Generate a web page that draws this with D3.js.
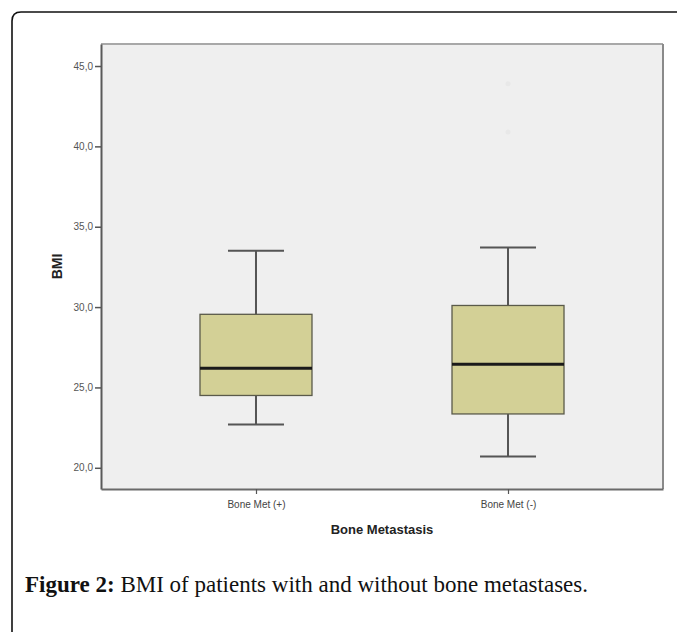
<!DOCTYPE html>
<html>
<head>
<meta charset="utf-8">
<script src="https://cdn.jsdelivr.net/npm/d3@7"></script>
<style>
  html, body { margin: 0; padding: 0; background: #fff; }
  svg { display: block; }
</style>
</head>
<body>
<svg id="chart" width="677" height="632"></svg>
<script>
// ---- data ----
const categories = ["Bone Met (+)", "Bone Met (-)"];
const whiskerLow = [22.7, 20.7];
const q1 = [24.5, 23.35];
const median = [26.2, 26.45];
const q3 = [29.55, 30.1];
const whiskerHigh = [33.5, 33.7];
const outliers = [[], [43.9, 40.9]];
const yTicks = [20, 25, 30, 35, 40, 45];
const yTitle = "BMI";
const xTitle = "Bone Metastasis";
const captionBold = "Figure 2:";
const captionText = " BMI of patients with and without bone metastases.";

// ---- layout ----
const svg = d3.select("#chart");
const plot = { left: 101, right: 663, top: 44, bottom: 489 };

// outer rounded frame (open to right/bottom)
svg.append("path")
  .attr("d", `M12,640 L12,21 Q12,12 21,12 L690,12`)
  .attr("fill", "none").attr("stroke", "#111").attr("stroke-width", 1.6);

const y = d3.scaleLinear().domain([18.68, 46.37]).range([plot.bottom, plot.top]);
const x = d3.scalePoint().domain(categories).range([plot.left, plot.right]).padding(0.615);

// plot background
svg.append("rect")
  .attr("x", plot.left).attr("y", plot.top)
  .attr("width", plot.right - plot.left).attr("height", plot.bottom - plot.top)
  .attr("fill", "#efefef");

// frame: top and right
svg.append("line").attr("x1", plot.left).attr("x2", plot.right).attr("y1", plot.top).attr("y2", plot.top)
  .attr("stroke", "#a8a8a8").attr("stroke-width", 2);
svg.append("line").attr("x1", plot.right).attr("x2", plot.right).attr("y1", plot.top).attr("y2", plot.bottom)
  .attr("stroke", "#8a8a8a").attr("stroke-width", 2);

// axes
const yAxis = svg.append("g").attr("transform", `translate(${plot.left},0)`)
  .call(d3.axisLeft(y).tickValues(yTicks).tickSize(6).tickSizeOuter(0).tickPadding(2)
    .tickFormat(d => d3.format(".1f")(d).replace(".", ",")));
yAxis.select(".domain").attr("stroke", "#5a5a5a").attr("stroke-width", 2);
yAxis.selectAll(".tick line").attr("stroke", "#555").attr("stroke-width", 1.5);
yAxis.selectAll(".tick text").attr("fill", "#555").style("font-family", "Arial, 'Liberation Sans', sans-serif").style("font-size", "10px");

const xAxis = svg.append("g").attr("transform", `translate(0,${plot.bottom})`)
  .call(d3.axisBottom(x).tickSize(5).tickPadding(7).tickSizeOuter(0));
xAxis.select(".domain").attr("stroke", "#6a6a6a").attr("stroke-width", 2);
xAxis.selectAll(".tick line").attr("stroke", "#555").attr("stroke-width", 1.2);
xAxis.selectAll(".tick text").attr("fill", "#444").style("font-family", "Arial, 'Liberation Sans', sans-serif").style("font-size", "10px");

// boxes
const boxW = 112, capW = 56;
const stats = categories.map((c, i) => ({
  c, lo: whiskerLow[i], q1: q1[i], med: median[i], q3: q3[i], hi: whiskerHigh[i], out: outliers[i]
}));
const g = svg.append("g");
const box = g.selectAll("g.box").data(stats).join("g").attr("class", "box");

// whisker stems
box.append("line").attr("x1", d => x(d.c)).attr("x2", d => x(d.c))
  .attr("y1", d => y(d.hi)).attr("y2", d => y(d.q3)).attr("stroke", "#555").attr("stroke-width", 2);
box.append("line").attr("x1", d => x(d.c)).attr("x2", d => x(d.c))
  .attr("y1", d => y(d.q1)).attr("y2", d => y(d.lo)).attr("stroke", "#555").attr("stroke-width", 2);
// caps
box.append("line").attr("x1", d => x(d.c) - capW / 2).attr("x2", d => x(d.c) + capW / 2)
  .attr("y1", d => y(d.hi)).attr("y2", d => y(d.hi)).attr("stroke", "#555").attr("stroke-width", 2);
box.append("line").attr("x1", d => x(d.c) - capW / 2).attr("x2", d => x(d.c) + capW / 2)
  .attr("y1", d => y(d.lo)).attr("y2", d => y(d.lo)).attr("stroke", "#555").attr("stroke-width", 2);
// box
box.append("rect").attr("x", d => x(d.c) - boxW / 2).attr("width", boxW)
  .attr("y", d => y(d.q3)).attr("height", d => y(d.q1) - y(d.q3))
  .attr("fill", "#d3d096").attr("stroke", "#5a5a4a").attr("stroke-width", 1.3);
// median
box.append("line").attr("x1", d => x(d.c) - boxW / 2).attr("x2", d => x(d.c) + boxW / 2)
  .attr("y1", d => y(d.med)).attr("y2", d => y(d.med)).attr("stroke", "#1a1a1a").attr("stroke-width", 3);
// outliers (very faint)
box.selectAll("circle").data(d => d.out.map(v => ({ c: d.c, v }))).join("circle")
  .attr("cx", d => x(d.c)).attr("cy", d => y(d.v)).attr("r", 2.5)
  .attr("fill", "#e8e8e8");

// axis titles
svg.append("text")
  .attr("transform", `translate(62,${(plot.top + plot.bottom) / 2}) rotate(-90)`)
  .attr("text-anchor", "middle")
  .style("font-family", "Arial, 'Liberation Sans', sans-serif").style("font-size", "14px").style("font-weight", "bold")
  .attr("fill", "#222").text(yTitle);
svg.append("text")
  .attr("x", (plot.left + plot.right) / 2).attr("y", 534)
  .attr("text-anchor", "middle")
  .style("font-family", "Arial, 'Liberation Sans', sans-serif").style("font-size", "13px").style("font-weight", "bold")
  .attr("fill", "#222").text(xTitle);

// caption
const cap = svg.append("text").attr("x", 25).attr("y", 592)
  .style("font-family", "'Liberation Serif', 'Times New Roman', serif").style("font-size", "23px").attr("fill", "#111");
cap.append("tspan").style("font-weight", "bold").text(captionBold);
cap.append("tspan").text(captionText);
</script>
</body>
</html>
